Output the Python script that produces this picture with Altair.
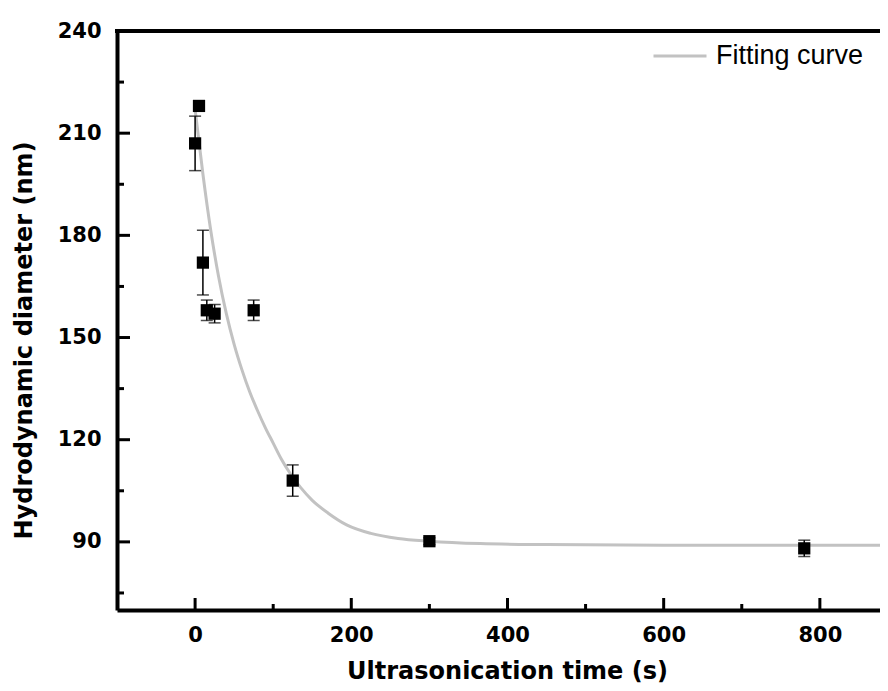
import altair as alt
import pandas as pd

# ---- data ----
time_s = [0, 5, 10, 15, 25, 75, 125, 300, 780]
diam_nm = [207, 218, 172, 158, 157, 158, 108, 90.2, 88.1]
err_nm = [8, 1.5, 9.5, 3, 2.7, 3, 4.6, 1, 2.4]

curve_t = [0, 10, 20, 30, 40, 50, 60, 70, 80, 90, 100, 110, 122, 135, 150, 170, 194, 225, 260, 300, 365, 450, 600, 877]
curve_d = [217, 198, 181.5, 168, 157, 148, 140.5, 134, 128.5, 123.5, 119, 114.5, 110, 106, 102.2, 98.5, 95, 92.5, 91, 90.2, 89.5, 89.2, 89, 89]
curve_name = "Fitting curve"

x_major = [0, 200, 400, 600, 800]
x_minor = [100, 300, 500, 700]
y_major = [90, 120, 150, 180, 210, 240]
y_minor = [75, 105, 135, 165, 195, 225]

X_DOMAIN = [-100, 877]
Y_DOMAIN = [70, 240]
W, H = 763, 579
BOLD = "DejaVu Sans"
REG = "Liberation Sans"

pts = pd.DataFrame({"t": time_s, "d": diam_nm, "e": err_nm})
pts["lo"] = pts["d"] - pts["e"]
pts["hi"] = pts["d"] + pts["e"]
curve = pd.DataFrame({"t": curve_t, "d": curve_d, "series": curve_name})

xs = alt.Scale(domain=X_DOMAIN, nice=False, zero=False)
ys = alt.Scale(domain=Y_DOMAIN, nice=False, zero=False)

xaxis = alt.Axis(
    values=x_major, title="Ultrasonication time (s)", ticks=False, grid=False,
    domainWidth=4, domainColor="black", labelFont=BOLD, labelFontSize=21,
    labelFontWeight="bold", labelColor="black", labelPadding=14,
    titleFont=BOLD, titleFontSize=24, titleFontWeight="bold", titleColor="black",
    titleX=390, titleY=68, titleBaseline="alphabetic", labelFlush=False,
)
yaxis = alt.Axis(
    values=y_major, title="Hydrodynamic diameter (nm)", ticks=False, grid=False,
    domainWidth=4, domainColor="black", labelFont=BOLD, labelFontSize=21,
    labelFontWeight="bold", labelColor="black", labelPadding=16,
    titleFont=BOLD, titleFontSize=24, titleFontWeight="bold", titleColor="black",
    titleX=-86, titleY=309, titleBaseline="alphabetic", labelFlush=False,
)

base_axes = alt.Chart(pts).mark_point(opacity=0).encode(
    x=alt.X("t:Q", scale=xs, axis=xaxis),
    y=alt.Y("d:Q", scale=ys, axis=yaxis),
)

line = alt.Chart(curve).mark_line(strokeWidth=3, interpolate="monotone", clip=True).encode(
    x=alt.X("t:Q", scale=xs),
    y=alt.Y("d:Q", scale=ys),
    color=alt.Color(
        "series:N",
        scale=alt.Scale(range=["#c2c2c2"]),
        legend=alt.Legend(
            title=None, orient="none", legendX=535, legendY=-3, padding=0,
            symbolType="stroke", symbolSize=2809, symbolStrokeWidth=3,
            labelFont=REG, labelFontSize=27, labelColor="black", labelOffset=8,
        ),
    ),
)

bars = alt.Chart(pts).mark_rule(color="black", strokeWidth=1.5).encode(
    x="t:Q", y=alt.Y("lo:Q", scale=ys), y2="hi:Q"
)
cap_lo = alt.Chart(pts).mark_tick(color="black", thickness=1.5, size=12, orient="horizontal").encode(
    x="t:Q", y=alt.Y("lo:Q", scale=ys)
)
cap_hi = alt.Chart(pts).mark_tick(color="black", thickness=1.5, size=12, orient="horizontal").encode(
    x="t:Q", y=alt.Y("hi:Q", scale=ys)
)
squares = alt.Chart(pts).mark_square(size=150, color="black", opacity=1, filled=True).encode(
    x="t:Q", y=alt.Y("d:Q", scale=ys)
)

# inward ticks
xmaj = alt.Chart(pd.DataFrame({"v": x_major})).mark_rule(color="black", strokeWidth=3).encode(
    x=alt.X("v:Q", scale=xs), y=alt.value(H), y2=alt.value(H - 12)
)
xmin = alt.Chart(pd.DataFrame({"v": x_minor})).mark_rule(color="black", strokeWidth=3).encode(
    x=alt.X("v:Q", scale=xs), y=alt.value(H), y2=alt.value(H - 6)
)
ymaj = alt.Chart(pd.DataFrame({"v": y_major})).mark_rule(color="black", strokeWidth=3).encode(
    y=alt.Y("v:Q", scale=ys), x=alt.value(0), x2=alt.value(13)
)
ymin = alt.Chart(pd.DataFrame({"v": y_minor})).mark_rule(color="black", strokeWidth=3).encode(
    y=alt.Y("v:Q", scale=ys), x=alt.value(0), x2=alt.value(7)
)
top = alt.Chart(pd.DataFrame({"v": [Y_DOMAIN[1]]})).mark_rule(color="black", strokeWidth=4).encode(
    y=alt.Y("v:Q", scale=ys), x=alt.value(-2), x2=alt.value(W)
)

chart = alt.layer(
    base_axes, line, bars, cap_lo, cap_hi, squares, xmaj, xmin, ymaj, ymin, top
).properties(
    width=W, height=H,
    autosize=alt.AutoSizeParams(type="none"),
    padding={"left": 109, "top": 23, "right": 0, "bottom": 73},
).configure_view(stroke=None).configure(background="white")

chart.save("out.html", embed_options={"renderer": "svg", "actions": False})
